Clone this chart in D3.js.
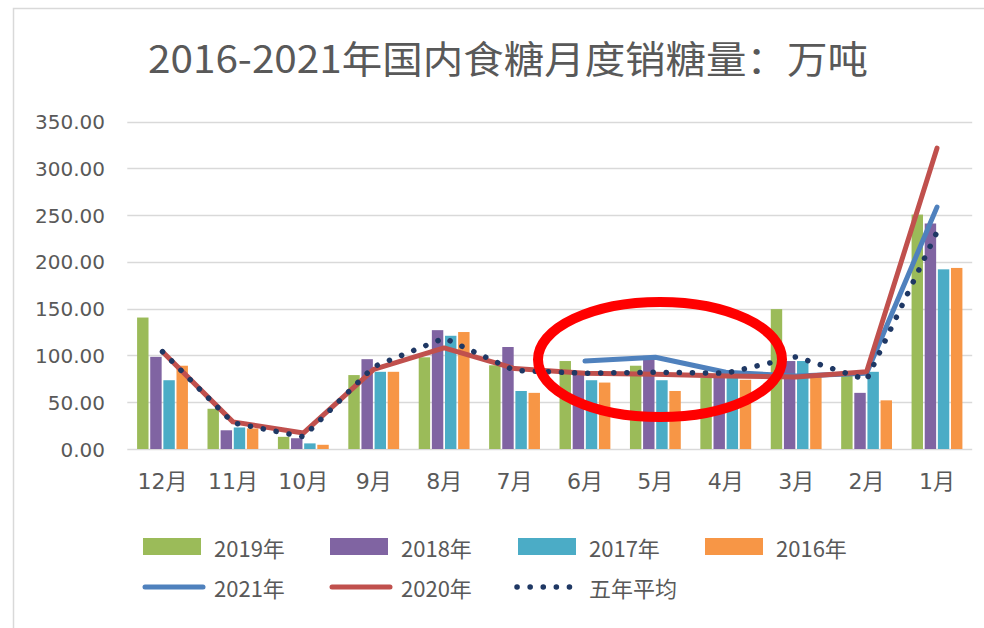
<!DOCTYPE html>
<html><head><meta charset="utf-8">
<script src="https://cdn.jsdelivr.net/npm/d3@7"></script>
<style>html,body{margin:0;padding:0;background:#fff;}</style>
</head><body>
<svg id="chart" width="984" height="628"></svg>
<script>
const months = ["12月","11月","10月","9月","8月","7月","6月","5月","4月","3月","2月","1月"];
const barSeries = ["2019年","2018年","2017年","2016年"];
const s2019 = [140.5, 43, 13, 79, 98, 89.5, 94, 89, 76, 149.5, 79, 250.5];
const s2018 = [98.5, 20, 11.5, 96, 127, 109, 80, 99.5, 80, 94, 60, 241];
const s2017 = [73.5, 23, 6, 82.5, 121, 62, 73.5, 73.5, 80, 94, 82.5, 192];
const s2016 = [89, 22, 4.5, 82.5, 125, 60, 71, 62, 74, 77, 52, 193.5];
const s2021 = [null, null, null, null, null, null, 94, 98, 82, 78, 81, 258.5];
const s2020 = [104, 29, 17, 85, 108, 86, 81, 80, 78, 77, 82.5, 321.5];
const sAvg  = [104, 28, 13, 88, 118.5, 84, 81, 82, 81, 98.5, 74, 232];
const yTicks = [0, 50, 100, 150, 200, 250, 300, 350];
const titleText = "2016-2021年国内食糖月度销糖量：万吨";

const barData = [s2019, s2018, s2017, s2016];
const barColors = ["#9bbb59", "#8064a2", "#4bacc6", "#f79646"];
const lineSeries = [
  {name: "2021年", values: s2021, color: "#4f81bd", dotted: false},
  {name: "2020年", values: s2020, color: "#c0504d", dotted: false},
  {name: "五年平均", values: sAvg, color: "#1f3864", dotted: true}
];

const svg = d3.select("#chart");
const textColor = "#595959";

// frame
svg.append("rect").attr("x", 13.5).attr("y", 8.5).attr("width", 1000).attr("height", 700)
  .attr("fill", "#fff").attr("stroke", "#d9d9d9").attr("stroke-width", 1.5);

// title
svg.append("text").attr("x", 148).attr("y", 56)
  .attr("dominant-baseline", "central")
  .attr("textLength", 720).attr("lengthAdjust", "spacingAndGlyphs")
  .style("font-family", "'Noto Sans CJK SC', sans-serif").style("font-size", "38px")
  .attr("fill", textColor).text(titleText);

const x = d3.scaleBand().domain(months).range([127.3, 972.2]).paddingInner(0.278).paddingOuter(0.139);
const x1 = d3.scaleBand().domain(barSeries).range([0, x.bandwidth()]).paddingInner(0.13);
const y = d3.scaleLinear().domain([0, 350]).range([449, 121.5]);

// gridlines
svg.append("g").selectAll("line").data(yTicks).join("line")
  .attr("x1", 127.3).attr("x2", 972.2)
  .attr("y1", d => Math.round(y(d)) + 0.5).attr("y2", d => Math.round(y(d)) + 0.5)
  .attr("stroke", "#d9d9d9").attr("stroke-width", 1.3);

// y axis labels
const yAxis = d3.axisLeft(y).tickValues(yTicks).tickFormat(d3.format(".2f")).tickSize(0).tickPadding(0);
const gy = svg.append("g").attr("transform", "translate(105,0)").call(yAxis);
gy.select(".domain").remove();
gy.selectAll("text").style("font-family", "'DejaVu Sans', sans-serif").style("font-size", "20px")
  .attr("fill", textColor).attr("dy", "0.35em");

// x axis labels
const xAxis = d3.axisBottom(x).tickSize(0).tickPadding(0);
const gx = svg.append("g").attr("transform", "translate(0,481)").call(xAxis);
gx.select(".domain").remove();
gx.selectAll("text").style("font-family", "'DejaVu Sans', 'Noto Sans CJK SC', sans-serif").style("font-size", "22px")
  .attr("fill", textColor).attr("dy", "0.35em").attr("y", 0);

// bars
barData.forEach((vals, si) => {
  svg.append("g").selectAll("rect").data(vals.map((v, i) => ({m: months[i], v}))).join("rect")
    .attr("x", d => x(d.m) + x1(barSeries[si]))
    .attr("width", x1.bandwidth())
    .attr("y", d => y(d.v))
    .attr("height", d => y(0) - y(d.v))
    .attr("fill", barColors[si]);
});

// lines
const cx = m => x(m) + x.bandwidth() / 2;
lineSeries.forEach(s => {
  const line = d3.line().defined(d => d.v !== null).x(d => cx(d.m)).y(d => y(d.v));
  const p = svg.append("path").datum(s.values.map((v, i) => ({m: months[i], v})))
    .attr("d", line).attr("fill", "none").attr("stroke", s.color)
    .attr("stroke-linejoin", "round").attr("stroke-linecap", "round");
  if (s.dotted) p.attr("stroke-width", 5.5).attr("stroke-dasharray", "0.1 13");
  else p.attr("stroke-width", 5);
});

// legend
const legFont = "'Noto Sans CJK SC', sans-serif";
const cols = [143, 330, 518, 705];
barSeries.forEach((name, i) => {
  svg.append("rect").attr("x", cols[i]).attr("y", 538).attr("width", 58).attr("height", 17).attr("fill", barColors[i]);
  svg.append("text").attr("x", cols[i] + 71).attr("y", 547).attr("dominant-baseline", "central")
    .style("font-family", legFont).style("font-size", "22px").attr("fill", textColor).text(name);
});
lineSeries.forEach((s, i) => {
  const l = svg.append("line").attr("x1", cols[i] + 2).attr("x2", cols[i] + 60).attr("y1", 587).attr("y2", 587)
    .attr("stroke", s.color).attr("stroke-linecap", "round");
  if (s.dotted) l.attr("stroke-width", 5.5).attr("stroke-dasharray", "0.1 13").attr("x1", cols[i] - 1).attr("x2", cols[i] + 56);
  else l.attr("stroke-width", 5);
  svg.append("text").attr("x", cols[i] + 71).attr("y", 587).attr("dominant-baseline", "central")
    .style("font-family", legFont).style("font-size", "22px").attr("fill", textColor).text(s.name);
});

// red annotation ellipse
svg.append("ellipse").attr("cx", 660).attr("cy", 359.5).attr("rx", 122).attr("ry", 57.5)
  .attr("fill", "none").attr("stroke", "#ff0000").attr("stroke-width", 10);
</script>
</body></html>
